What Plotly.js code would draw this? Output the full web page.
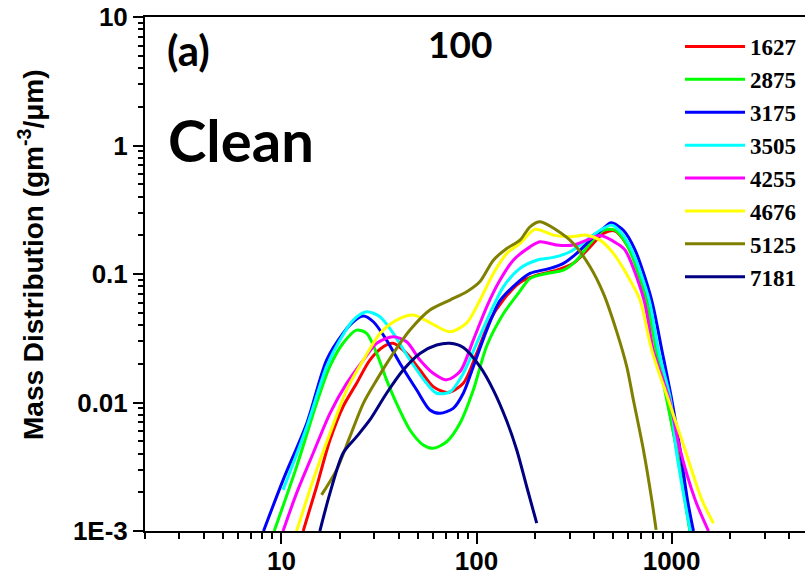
<!DOCTYPE html>
<html>
<head>
<meta charset="utf-8">
<script src="https://cdn.plot.ly/plotly-3.0.1.min.js"></script>
<style>
html,body{margin:0;padding:0;overflow:hidden;background:#fff;}
#chart{width:810px;height:579px;}
</style>
</head>
<body>
<div id="chart"></div>
<script>
// Series names
const seriesNames = ['1627','2875','3175','3505','4255','4676','5125','7181'];
const seriesColors = ['#ff0000','#00ff00','#0000ff','#00ffff','#ff00ff','#ffff00','#808000','#000080'];

// 1627 (red)
const x1627 = [12.94,15.15,17.74,20.7,24.3,28.4,33.3,37.45,43.85,51.3,60,71.4,85.6,100.2,117.3,137.3,167,203.5,257.8,313.6,382,447,513,612,749,843,951,1064,1173,1245];
const y1627 = [0.001,0.00221,0.0051,0.00927,0.0141,0.0214,0.0272,0.0289,0.0241,0.0179,0.0133,0.01196,0.0141,0.0241,0.0438,0.063,0.086,0.098,0.107,0.121,0.1626,0.207,0.216,0.1535,0.0627,0.0256,0.01045,0.00427,0.00175,0.001];

// 2875 (green)
const x2875 = [9.19,11.97,15.15,17.7,20.7,24.3,27.35,30.8,34.6,38.97,45.6,53.35,60,70.3,82.3,96.3,112.8,137.3,167,188,229,279,326,382,447,513,600,740,835,945,1060,1240];
const y2875 = [0.001,0.00317,0.00986,0.019,0.0289,0.0366,0.0345,0.0241,0.015,0.0098,0.00611,0.00467,0.0044,0.00495,0.00689,0.0125,0.0275,0.049,0.0736,0.0924,0.101,0.107,0.128,0.173,0.219,0.219,0.16,0.062,0.0256,0.01045,0.00427,0.001];

// 3175 (blue)
const x3175 = [8.1,10.2,13.5,17.05,20.7,23.35,26.3,29.6,34.6,40.5,49.4,57.7,65,76,85.6,96.3,112.8,132,160.8,188,238,279,326,382,447,490,566,650,790,891,1002,1106,1205,1294];
const y3175 = [0.001,0.00249,0.00689,0.0214,0.0345,0.0425,0.0471,0.0425,0.0306,0.0202,0.0125,0.00875,0.00824,0.00901,0.0118,0.019,0.0366,0.062,0.0845,0.101,0.1106,0.121,0.1446,0.1835,0.2263,0.25,0.219,0.1535,0.0627,0.0256,0.01045,0.00427,0.00175,0.001];

// 3505 (cyan)
const x3505 = [10.2,13.5,17.05,19.95,23.35,27.35,32.0,37.45,45.6,55.5,62.5,73.1,85.6,100.2,117.3,137.3,167,203.5,247.6,301.6,367,430,493,544,625,767,855,988,1055,1245];
const y3505 = [0.00209,0.00649,0.019,0.0306,0.0438,0.0508,0.0465,0.0345,0.0214,0.0141,0.0118,0.0121,0.01687,0.0289,0.0494,0.0795,0.1106,0.128,0.1346,0.149,0.1835,0.219,0.24,0.215,0.1535,0.0627,0.0256,0.01045,0.00427,0.001];

// 4255 (magenta)
const x4255 = [10.2,11.97,14.55,17.74,21.6,26.3,30.8,37.45,43.85,51.3,60,70.3,82.3,96.3,112.8,132,154.4,188,211.6,257.8,313.6,367,430,524,577.5,722,806,975,1106,1320,1545];
const y4255 = [0.001,0.00197,0.00403,0.00824,0.0141,0.0214,0.0289,0.0325,0.0297,0.0214,0.01687,0.015,0.0174,0.0306,0.0556,0.0897,0.128,0.1626,0.178,0.168,0.168,0.1835,0.199,0.173,0.1535,0.0627,0.0256,0.01045,0.00427,0.00175,0.001];

// 4676 (yellow)
const x4676 = [11.97,14.55,17.74,21.6,26.3,32.0,38.97,47.4,57.7,73.1,89.1,104.2,122,142.9,167,199.5,247.6,301.6,367,430,503,612,689,791,963,1173,1429,1638];
const y4676 = [0.001,0.00249,0.00576,0.0125,0.0214,0.0345,0.0438,0.0479,0.0419,0.0355,0.0417,0.0627,0.101,0.1446,0.173,0.223,0.2006,0.195,0.2006,0.1835,0.1446,0.0897,0.0627,0.0256,0.01045,0.00427,0.00175,0.00115];

// 5125 (olive)
const x5125 = [16.07,19.19,22.45,26.3,30.8,37.45,45.6,57.7,73.1,89.1,104.2,122,142.9,167,188,211.6,257.8,313.6,382,447,524,589,637,717,791,833];
const y5125 = [0.00191,0.00299,0.00542,0.00986,0.015,0.0241,0.0366,0.0524,0.0627,0.0727,0.0873,0.128,0.158,0.1835,0.233,0.255,0.219,0.173,0.1138,0.0706,0.0353,0.019,0.01045,0.00427,0.00175,0.00102];

// 7181 (navy)
const x7181 = [15.75,17.74,20.7,24.3,28.4,34.6,42.1,51.3,62.5,73.1,85.6,104.2,122,142.9,160.8,180.9,203.5];
const y7181 = [0.001,0.00197,0.00403,0.00542,0.00731,0.0118,0.0179,0.0241,0.028,0.0289,0.0268,0.019,0.0125,0.00718,0.00427,0.00221,0.00115];

// Axis ticks
const xTickVals = [10,100,1000];
const xTickText = ['10','100','1000'];
const yTickVals = [0.001,0.01,0.1,1,10];
const yTickText = ['1E-3','0.01','0.1','1','10'];
const xMinor = [2,3,4,5,6,7,8,9,20,30,40,50,60,70,80,90,200,300,400,500,600,700,800,900,2000,3000,4000,5000];
const yMinor = [0.002,0.003,0.004,0.005,0.006,0.007,0.008,0.009,0.02,0.03,0.04,0.05,0.06,0.07,0.08,0.09,0.2,0.3,0.4,0.5,0.6,0.7,0.8,0.9,2,3,4,5,6,7,8,9];

const yTitle = 'Mass Distribution (gm<sup>-3</sup>/μm)';

const xs = [x1627,x2875,x3175,x3505,x4255,x4676,x5125,x7181];
const ys = [y1627,y2875,y3175,y3505,y4255,y4676,y5125,y7181];

const traces = seriesNames.map((n,i)=>({
  x: xs[i], y: ys[i], name: n, type:'scatter', mode:'lines',
  line:{color: seriesColors[i], width:3, shape:'spline', smoothing:0.8}
}));

const W = 810, H = 579;
const mL = 145, mR = 2, mT = 17, mB = 48;
const pw = W - mL - mR, ph = H - mT - mB;
function px(x){ return (x - mL)/pw; }
function py(y){ return (H - mB - y)/ph; }

const layout = {
  width: W, height: H,
  margin:{l:mL, r:mR, t:mT, b:mB, pad:0},
  paper_bgcolor:'#fff', plot_bgcolor:'#fff',
  showlegend:true,
  legend:{
    x: px(680), y: py(25), xanchor:'left', yanchor:'top',
    bgcolor:'rgba(0,0,0,0)', borderwidth:0,
    font:{family:'Liberation Serif', size:23, color:'#000', weight:'bold'},
    itemwidth:60, tracegroupgap:0
  },
  xaxis:{
    type:'log', range:[Math.log10(2), Math.log10(5000)],
    showline:true, linecolor:'#000', linewidth:2, mirror:true,
    showgrid:false, zeroline:false,
    ticks:'outside', ticklen:11, tickwidth:2, tickcolor:'#000',
    tickvals:xTickVals, ticktext:xTickText, ticklabelstandoff:-5,
    tickfont:{family:'Liberation Sans', size:26, color:'#000', weight:'bold'},
    minor:{ticks:'outside', ticklen:6, tickwidth:2, tickcolor:'#000', tickvals:xMinor, showgrid:false}
  },
  yaxis:{
    type:'log', range:[-3, 1],
    showline:true, linecolor:'#000', linewidth:2, mirror:true,
    showgrid:false, zeroline:false,
    ticks:'outside', ticklen:10, tickwidth:2, tickcolor:'#000',
    tickvals:yTickVals, ticktext:yTickText,
    tickfont:{family:'Liberation Sans', size:26, color:'#000', weight:'bold'},
    minor:{ticks:'outside', ticklen:5, tickwidth:2, tickcolor:'#000', tickvals:yMinor, showgrid:false}
  },
  annotations:[
    {text:yTitle, xref:'paper', yref:'paper', x:px(31), y:py(255), xanchor:'center', yanchor:'middle', showarrow:false,
     textangle:-90, font:{family:'Liberation Sans', size:28, color:'#000', weight:'bold'}},
    {text:'(a)', xref:'paper', yref:'paper', x:px(188), y:py(50), xanchor:'center', yanchor:'middle', showarrow:false,
     font:{family:'Lato', size:42, color:'#000', weight:'bold'}},
    {text:'100', xref:'paper', yref:'paper', x:px(460), y:py(43), xanchor:'center', yanchor:'middle', showarrow:false,
     font:{family:'Lato', size:37, color:'#000', weight:'bold'}},
    {text:'Clean', xref:'paper', yref:'paper', x:px(241), y:py(139), xanchor:'center', yanchor:'middle', showarrow:false,
     font:{family:'Lato', size:58, color:'#000', weight:'bold'}}
  ]
};

Plotly.newPlot('chart', traces, layout, {staticPlot:true, displayModeBar:false});
</script>
</body>
</html>
